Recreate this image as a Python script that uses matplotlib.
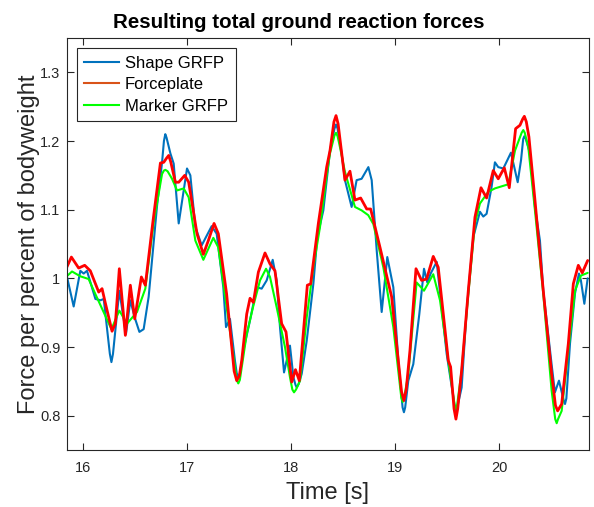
#! /usr/bin/env python3

import matplotlib
matplotlib.use("Agg")
import matplotlib.pyplot as plt
from matplotlib.lines import Line2D
from matplotlib.ticker import FormatStrFormatter

# values (time in s, force / bodyweight)
shape_t = [15.84, 15.907, 15.971, 16.003, 16.035, 16.116, 16.164, 16.196, 16.255, 16.27,
           16.285, 16.346, 16.41, 16.452, 16.494, 16.539, 16.58, 16.628, 16.709, 16.757,
           16.775, 16.788, 16.80, 16.837, 16.869, 16.917, 16.955, 16.997, 17.029, 17.077,
           17.138, 17.234, 17.282, 17.346, 17.372, 17.41, 17.458, 17.475, 17.49, 17.505,
           17.539, 17.603, 17.667, 17.715, 17.763, 17.821, 17.859, 17.891, 17.93, 17.987,
           18.02, 18.04, 18.052, 18.07, 18.1, 18.148, 18.212, 18.25, 18.308, 18.372,
           18.415, 18.43, 18.445, 18.484, 18.516, 18.58, 18.628, 18.676, 18.741, 18.773,
           18.821, 18.869, 18.923, 18.981, 19.029, 19.07, 19.083, 19.095, 19.125, 19.173,
           19.231, 19.276, 19.308, 19.34, 19.398, 19.494, 19.57, 19.583, 19.60, 19.638,
           19.686, 19.75, 19.814, 19.846, 19.878, 19.926, 19.958, 19.99, 20.039, 20.112,
           20.144, 20.177, 20.209, 20.23, 20.241, 20.255, 20.295, 20.343, 20.391, 20.423,
           20.503, 20.535, 20.574, 20.62, 20.632, 20.645, 20.68, 20.728, 20.766, 20.785,
           20.818, 20.85]
shape_v = [1.004, 0.959, 1.011, 1.007, 1.011, 0.970, 0.968, 0.970, 0.890, 0.878,
           0.890, 0.982, 0.919, 0.968, 0.943, 0.922, 0.926, 0.973, 1.106, 1.169,
           1.200, 1.210, 1.205, 1.182, 1.167, 1.080, 1.118, 1.160, 1.150, 1.075,
           1.048, 1.076, 1.065, 0.987, 0.929, 0.941, 0.880, 0.862, 0.856, 0.860,
           0.895, 0.939, 0.987, 0.985, 0.997, 1.027, 0.997, 0.929, 0.863, 0.902,
           0.856, 0.845, 0.841, 0.846, 0.861, 0.909, 0.992, 1.060, 1.099, 1.186,
           1.218, 1.224, 1.218, 1.182, 1.143, 1.104, 1.143, 1.145, 1.162, 1.143,
           1.041, 0.951, 1.031, 0.987, 0.880, 0.812, 0.805, 0.812, 0.851, 0.875,
           0.948, 1.014, 0.994, 1.007, 1.024, 0.890, 0.815, 0.808, 0.815, 0.841,
           0.953, 1.060, 1.097, 1.090, 1.094, 1.133, 1.169, 1.162, 1.160, 1.183,
           1.162, 1.140, 1.172, 1.203, 1.207, 1.203, 1.182, 1.104, 1.055, 0.982,
           0.875, 0.834, 0.851, 0.822, 0.817, 0.825, 0.905, 0.978, 1.007, 0.997,
           0.963, 1.000]

plate_t = [15.84, 15.885, 15.955, 16.013, 16.067, 16.148, 16.18, 16.21, 16.276, 16.308,
           16.346, 16.404, 16.452, 16.494, 16.558, 16.596, 16.667, 16.741, 16.773, 16.80,
           16.821, 16.84, 16.885, 16.917, 16.975, 17.013, 17.093, 17.154, 17.202, 17.257,
           17.298, 17.378, 17.45, 17.475, 17.50, 17.523, 17.571, 17.603, 17.635, 17.683,
           17.747, 17.795, 17.843, 17.907, 17.949, 18.004, 18.04, 18.077, 18.154, 18.186,
           18.26, 18.34, 18.372, 18.41, 18.43, 18.45, 18.516, 18.564, 18.612, 18.667,
           18.725, 18.763, 18.853, 18.965, 19.06, 19.083, 19.105, 19.141, 19.199, 19.253,
           19.301, 19.365, 19.413, 19.51, 19.532, 19.565, 19.583, 19.60, 19.638, 19.702,
           19.766, 19.824, 19.878, 19.942, 19.99, 20.048, 20.096, 20.157, 20.199, 20.225,
           20.241, 20.26, 20.285, 20.343, 20.423, 20.503, 20.54, 20.561, 20.6, 20.664,
           20.712, 20.76, 20.798, 20.85]
plate_v = [1.016, 1.031, 1.015, 1.019, 1.011, 0.980, 0.985, 0.965, 0.923, 0.934,
           1.014, 0.917, 0.990, 0.941, 1.002, 0.990, 1.080, 1.168, 1.169, 1.175,
           1.179, 1.170, 1.140, 1.140, 1.150, 1.140, 1.065, 1.035, 1.055, 1.080,
           1.065, 0.977, 0.865, 0.851, 0.858, 0.880, 0.948, 0.971, 0.965, 1.009,
           1.037, 1.021, 1.011, 0.934, 0.922, 0.849, 0.867, 0.851, 0.990, 0.992,
           1.080, 1.162, 1.186, 1.228, 1.237, 1.225, 1.143, 1.156, 1.114, 1.117,
           1.101, 1.101, 1.045, 0.973, 0.835, 0.822, 0.838, 0.895, 1.014, 0.997,
           0.999, 1.032, 1.016, 0.880, 0.871, 0.810, 0.795, 0.810, 0.866, 0.982,
           1.089, 1.132, 1.117, 1.157, 1.145, 1.161, 1.132, 1.218, 1.223, 1.232,
           1.236, 1.228, 1.206, 1.114, 0.982, 0.861, 0.815, 0.807, 0.817, 0.905,
           0.992, 1.019, 1.008, 1.026]

marker_t = [15.84, 15.891, 15.971, 16.051, 16.116, 16.27, 16.346, 16.42, 16.516, 16.596,
            16.677, 16.757, 16.775, 16.789, 16.81, 16.853, 16.901, 16.965, 17.013, 17.077,
            17.154, 17.25, 17.298, 17.378, 17.475, 17.49, 17.505, 17.571, 17.635, 17.699,
            17.757, 17.795, 17.859, 17.939, 17.987, 18.01, 18.026, 18.045, 18.084, 18.148,
            18.212, 18.276, 18.34, 18.372, 18.415, 18.43, 18.445, 18.468, 18.516, 18.612,
            18.676, 18.74, 18.789, 18.885, 18.981, 19.058, 19.071, 19.085, 19.125, 19.205,
            19.276, 19.365, 19.43, 19.51, 19.57, 19.583, 19.595, 19.638, 19.702, 19.766,
            19.814, 19.894, 19.958, 20.087, 20.151, 20.215, 20.231, 20.245, 20.279, 20.343,
            20.423, 20.503, 20.538, 20.552, 20.565, 20.6, 20.664, 20.728, 20.785, 20.85]
marker_v = [1.003, 1.010, 1.003, 0.999, 0.977, 0.926, 0.953, 0.934, 0.951, 0.985,
            1.082, 1.152, 1.157, 1.158, 1.156, 1.145, 1.128, 1.131, 1.118, 1.055,
            1.027, 1.059, 1.045, 0.958, 0.852, 0.847, 0.852, 0.919, 0.960, 0.997,
            1.014, 1.002, 0.958, 0.900, 0.856, 0.838, 0.834, 0.838, 0.851, 0.943,
            1.016, 1.075, 1.150, 1.182, 1.208, 1.212, 1.207, 1.191, 1.155, 1.104,
            1.099, 1.092, 1.079, 1.016, 0.929, 0.826, 0.820, 0.826, 0.861, 0.994,
            0.982, 1.006, 0.968, 0.880, 0.816, 0.810, 0.816, 0.866, 0.977, 1.080,
            1.109, 1.126, 1.131, 1.137, 1.186, 1.212, 1.216, 1.212, 1.191, 1.099,
            0.977, 0.837, 0.795, 0.789, 0.795, 0.807, 0.895, 0.982, 1.004, 1.008]

series_names = ["Shape GRFP", "Forceplate", "Marker GRFP"]
x_ticks = [16, 17, 18, 19, 20]
y_ticks = [0.8, 0.9, 1.0, 1.1, 1.2, 1.3]


def main():
    plt.rcParams["font.family"] = ["Liberation Sans", "DejaVu Sans"]

    fig = plt.figure(figsize=(5.94, 5.07), dpi=100)
    ax = fig.add_axes([0.1123, 0.1124, 0.8788, 0.8126])

    style = dict(solid_joinstyle="round", solid_capstyle="round")
    ax.plot(shape_t, shape_v, color="#0072BD", lw=1.5, **style)
    ax.plot(marker_t, marker_v, color="#00FF00", lw=1.5, **style)
    ax.plot(plate_t, plate_v, color="#FF0000", lw=2.0, **style)

    ax.set_xlim(15.84, 20.86)
    ax.set_ylim(0.75, 1.35)
    ax.set_xticks(x_ticks)
    ax.set_yticks(y_ticks)
    ax.yaxis.set_major_formatter(FormatStrFormatter("%g"))

    ax.tick_params(direction="in", length=5, width=0.8, colors="#262626",
                   labelsize=10.5, labelcolor="#262626", top=True, right=True)
    ax.tick_params(axis="y", pad=4.5)
    ax.tick_params(axis="x", pad=8)
    for spine in ax.spines.values():
        spine.set_color("#262626")
        spine.set_linewidth(0.8)

    ax.set_title("Resulting total ground reaction forces", fontsize=14.8,
                 fontweight="bold", x=0.444, pad=7)
    ax.set_xlabel("Time [s]", fontsize=17, color="#262626", labelpad=5)
    ax.set_ylabel("Force per percent of bodyweight", fontsize=17, color="#262626", labelpad=0)

    # the legend swatch for the force plate is orange while its line is red
    handles = [Line2D([], [], color="#0072BD", lw=1.5),
               Line2D([], [], color="#D95319", lw=1.5),
               Line2D([], [], color="#00FF00", lw=1.5)]
    leg = ax.legend(handles, series_names, loc="upper left", fontsize=12, fancybox=False,
                    framealpha=1, edgecolor="#262626", borderaxespad=0.6,
                    handlelength=2.1, handletextpad=0.35, borderpad=0.45, labelspacing=0.4)
    leg.get_frame().set_linewidth(0.8)

    fig.savefig("out.png", dpi=100)
    plt.close(fig)


if __name__ == "__main__":
    main()
